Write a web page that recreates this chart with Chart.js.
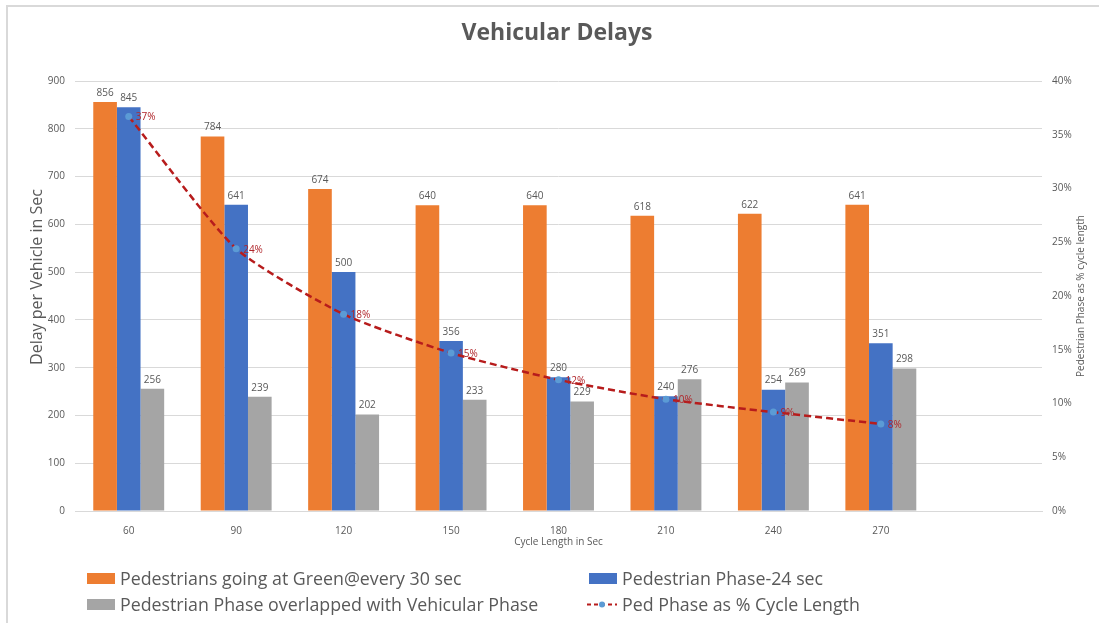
<!DOCTYPE html>
<html><head><meta charset="utf-8">
<script src="https://cdn.jsdelivr.net/npm/chart.js@4/dist/chart.umd.min.js"></script>
<style>
html,body{margin:0;padding:0;background:#fff;}
#wrap{position:relative;width:1099px;height:623px;overflow:hidden;background:#fff;}
#frame{position:absolute;left:6px;top:5px;width:1200px;height:700px;border-left:2px solid #d9d9d9;border-top:2px solid #d9d9d9;}
#c{position:absolute;left:0;top:0;}
.lg{position:absolute;font-family:"Open Sans",sans-serif;font-size:17.8px;color:#595959;white-space:nowrap;line-height:20px;}
.lg .sw{position:absolute;left:0;top:5px;width:28px;height:11px;}
.lg .tx{position:absolute;left:33px;top:0px;}
</style></head>
<body><div id="wrap"><div id="frame"></div><canvas id="c" width="1099" height="623"></canvas><div id="legend"></div></div>
<script>
const categories = ['60','90','120','150','180','210','240','270',''];
const greenEvery30 = [856,784,674,640,640,618,622,641];
const pedPhase24 = [845,641,500,356,280,240,254,351];
const overlapped = [256,239,202,233,229,276,269,298];
const pedPhasePct = [0.367,0.244,0.183,0.147,0.122,0.104,0.092,0.081];
const leftTicks = {min:0,max:900,step:100};
const rightTicks = {min:0,max:0.4,step:0.05};

const FONT = '"Open Sans", sans-serif';
const GRAY = '#595959';

const labelPlugin = {
  id:'labels',
  afterDatasetsDraw(chart){
    const ctx = chart.ctx;
    ctx.save();
    chart.data.datasets.forEach((ds,i)=>{
      const meta = chart.getDatasetMeta(i);
      meta.data.forEach((el,j)=>{
        const v = ds.data[j];
        if (v == null) return;
        if (ds.type === 'line') {
          ctx.font = '10px ' + FONT;
          ctx.fillStyle = '#B0262B';
          ctx.textAlign = 'left'; ctx.textBaseline = 'middle';
          ctx.fillText(Math.round(v*100)+'%', el.x+7, el.y+1);
        } else {
          ctx.font = '10px ' + FONT;
          ctx.fillStyle = GRAY;
          ctx.textAlign = 'center'; ctx.textBaseline = 'bottom';
          ctx.fillText(String(v), el.x, el.y-4);
        }
      });
    });
    ctx.fillStyle = GRAY;
    ctx.textAlign='center'; ctx.textBaseline='middle';
    ctx.font = 'bold 23px ' + FONT; ctx.fillText('Vehicular Delays',557,33);
    ctx.save(); ctx.translate(37,277); ctx.rotate(-Math.PI/2);
    ctx.font = '16px ' + FONT; ctx.fillText('Delay per Vehicle in Sec',0,0); ctx.restore();
    ctx.save(); ctx.translate(1081,296); ctx.rotate(-Math.PI/2);
    ctx.font = '10px ' + FONT; ctx.fillText('Pedestrian Phase as % cycle length',0,0); ctx.restore();
    ctx.restore();
  }
};

const chart = new Chart(document.getElementById('c'), {
  type:'bar',
  data:{
    labels:categories,
    datasets:[
      {type:'line',label:'Ped Phase as % Cycle Length',data:pedPhasePct,yAxisID:'y1',order:0,
       borderColor:'#B71C1C',borderWidth:2.5,borderDash:[7,4],fill:false,tension:0.2,
       pointRadius:3.5,pointBackgroundColor:'#5B9BD5',pointBorderWidth:0,pointBorderColor:'#5B9BD5'},
      {label:'Pedestrians going at Green@every 30 sec',data:greenEvery30,backgroundColor:'#ED7D31',order:1,yAxisID:'y'},
      {label:'Pedestrian Phase-24 sec',data:pedPhase24,backgroundColor:'#4472C4',order:1,yAxisID:'y'},
      {label:'Pedestrian Phase overlapped with Vehicular Phase',data:overlapped,backgroundColor:'#A5A5A5',order:1,yAxisID:'y'}
    ]
  },
  options:{
    responsive:false, animation:false,
    layout:{padding:{left:8,right:10,top:81,bottom:72}},
    datasets:{bar:{categoryPercentage:0.66,barPercentage:1}},
    plugins:{
      legend:{display:false}, tooltip:{enabled:false}, title:{display:false}
    },
    scales:{
      x:{grid:{display:false},border:{display:true,color:'#D9D9D9'},
         ticks:{color:GRAY,font:{family:FONT,size:10},padding:6,maxRotation:0},
         title:{display:true,text:'Cycle Length in Sec',color:GRAY,font:{family:FONT,size:10},padding:{top:4,bottom:3}},
         afterFit(s){s.height=40;}},
      y:{position:'left',min:leftTicks.min,max:leftTicks.max,
         ticks:{stepSize:leftTicks.step,color:GRAY,font:{family:FONT,size:10},padding:10},
         grid:{color:'#D9D9D9',drawTicks:false},border:{display:false},
         afterFit(s){s.width=67;}},
      y1:{position:'right',min:rightTicks.min,max:rightTicks.max,
         ticks:{stepSize:rightTicks.step,color:GRAY,font:{family:FONT,size:10},padding:10,
                callback:v=>Math.round(v*100)+'%'},
         grid:{display:false,drawTicks:false},border:{display:false},
         afterFit(s){s.width=47;}}
    }
  },
  plugins:[labelPlugin]
});

const lg = document.getElementById('legend');
const pos = [
  {ds:1,left:87,top:568},
  {ds:2,left:589,top:568},
  {ds:3,left:87,top:594},
  {ds:0,left:589,top:594}
];
pos.forEach(p=>{
  const ds = chart.data.datasets[p.ds];
  const d = document.createElement('div');
  d.className='lg'; d.style.left=p.left+'px'; d.style.top=p.top+'px';
  if (ds.type==='line') {
    d.innerHTML = '<svg class="sw" style="height:11px;width:30px;left:-2px" width="30" height="11"><line x1="0" y1="5.5" x2="30" y2="5.5" stroke="'+ds.borderColor+'" stroke-width="2" stroke-dasharray="4,3"/><circle cx="15" cy="5.5" r="3" fill="#5B9BD5"/></svg><span class="tx"></span>';
  } else {
    d.innerHTML = '<span class="sw" style="background:'+ds.backgroundColor+'"></span><span class="tx"></span>';
  }
  d.querySelector('.tx').textContent = ds.label;
  lg.appendChild(d);
});
</script>
</body></html>
